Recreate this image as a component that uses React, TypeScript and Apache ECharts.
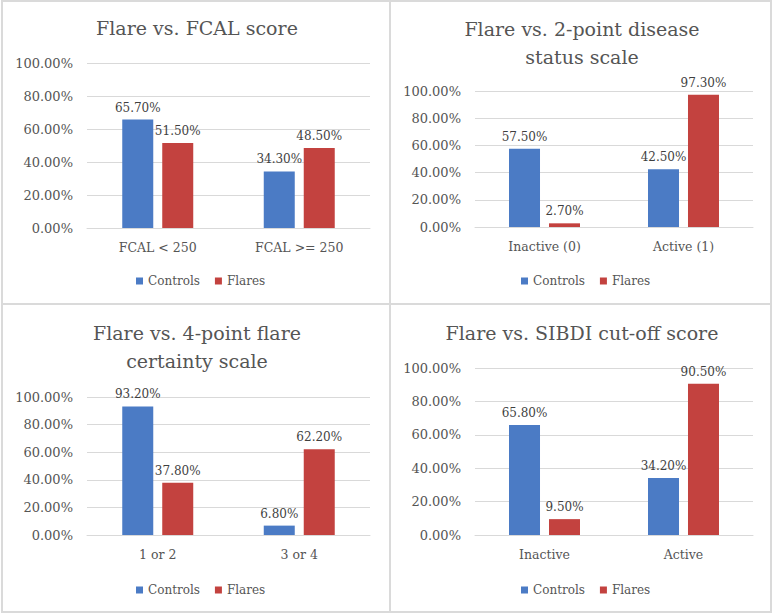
import React, { useEffect, useRef } from "react";
import * as echarts from "echarts";

const titles = [
  "Flare vs. FCAL score",
  "Flare vs. 2-point disease\nstatus scale",
  "Flare vs. 4-point flare\ncertainty scale",
  "Flare vs. SIBDI cut-off score",
];
const categories = [
  ["FCAL < 250", "FCAL >= 250"],
  ["Inactive (0)", "Active (1)"],
  ["1 or 2", "3 or 4"],
  ["Inactive", "Active"],
];
const controls = [
  [65.7, 34.3],
  [57.5, 42.5],
  [93.2, 6.8],
  [65.8, 34.2],
];
const flares = [
  [51.5, 48.5],
  [2.7, 97.3],
  [37.8, 62.2],
  [9.5, 90.5],
];
const yTicks = [0, 20, 40, 60, 80, 100];
const seriesNames = ["Controls", "Flares"];

const FONT = "DejaVu Serif";
const GRAY = "#555555";
const BLUE = "#4B7BC5";
const RED = "#C3423F";

// layout per panel
const panels = [
  { cx: 197, titleTop: 14, left: 87, width: 283, top: 63, bottom: 228, legendY: 278 },
  { cx: 582, titleTop: 15, left: 475, width: 278, top: 91, bottom: 227, legendY: 278 },
  { cx: 197, titleTop: 319, left: 87, width: 283, top: 397, bottom: 535, legendY: 587 },
  { cx: 582, titleTop: 319, left: 475, width: 278, top: 368, bottom: 535, legendY: 587 },
];

export default function App() {
  const ref = useRef<HTMLDivElement>(null);
  useEffect(() => {
    if (!ref.current) return;
    const chart = echarts.init(ref.current, undefined, { renderer: "svg" });
    const H = 614;
    const grid = panels.map((p) => ({
      left: p.left,
      width: p.width,
      top: p.top,
      bottom: H - p.bottom,
      containLabel: false,
    }));
    const title = panels.map((p, i) => ({
      text: titles[i],
      left: p.cx,
      top: p.titleTop,
      textAlign: "center",
      padding: 0,
      textStyle: {
        fontFamily: FONT,
        fontSize: 19,
        fontWeight: "normal",
        color: GRAY,
        lineHeight: 28,
      },
    }));
    const legend = panels.map((p) => ({
      data: seriesNames,
      left: p.cx - 66,
      top: p.legendY - 8,
      itemWidth: 7,
      itemHeight: 7,
      itemGap: 15,
      icon: "rect",
      textStyle: { fontFamily: FONT, fontSize: 12, color: GRAY },
    }));
    const xAxis = panels.map((p, i) => ({
      type: "category",
      gridIndex: i,
      data: categories[i],
      axisLine: { show: true, lineStyle: { color: "#D9D9D9", width: 1 } },
      axisTick: { show: false },
      axisLabel: { fontFamily: FONT, fontSize: 12.5, color: GRAY, margin: 13 },
    }));
    const yAxis = panels.map((p, i) => ({
      type: "value",
      gridIndex: i,
      min: 0,
      max: yTicks[yTicks.length - 1],
      interval: yTicks[1] - yTicks[0],
      axisLine: { show: false },
      axisTick: { show: false },
      splitLine: { lineStyle: { color: "#D9D9D9", width: 1 } },
      axisLabel: {
        fontFamily: FONT,
        fontSize: 13,
        color: GRAY,
        margin: 14,
        formatter: (v: number) => v.toFixed(2) + "%",
      },
    }));
    const series: any[] = [];
    panels.forEach((p, i) => {
      [controls[i], flares[i]].forEach((vals, k) => {
        series.push({
          type: "bar",
          name: seriesNames[k],
          xAxisIndex: i,
          yAxisIndex: i,
          data: vals,
          barWidth: 31,
          barGap: "29%",
          itemStyle: { color: k === 0 ? BLUE : RED },
          label: {
            show: true,
            position: "top",
            distance: 6,
            fontFamily: FONT,
            fontSize: 12,
            color: "#3F3F3F",
            formatter: (d: any) => d.value.toFixed(2) + "%",
          },
        });
      });
    });
    const border = "#DADADA";
    const graphic = [
      { type: "rect", shape: { x: 2, y: 1, width: 769, height: 611 }, style: { fill: "none", stroke: border, lineWidth: 2 }, silent: true },
      { type: "line", shape: { x1: 390, y1: 1, x2: 390, y2: 612 }, style: { stroke: border, lineWidth: 2 }, silent: true },
      { type: "line", shape: { x1: 2, y1: 304, x2: 771, y2: 304 }, style: { stroke: border, lineWidth: 2 }, silent: true },
    ];
    chart.setOption({
      animation: false,
      backgroundColor: "#ffffff",
      textStyle: { fontFamily: FONT },
      title,
      legend,
      grid,
      xAxis,
      yAxis,
      series,
      graphic,
    });
    return () => chart.dispose();
  }, []);
  return (
    <div
      ref={ref}
      style={{ width: 777, height: 614, position: "absolute", left: 0, top: 0 }}
    />
  );
}
